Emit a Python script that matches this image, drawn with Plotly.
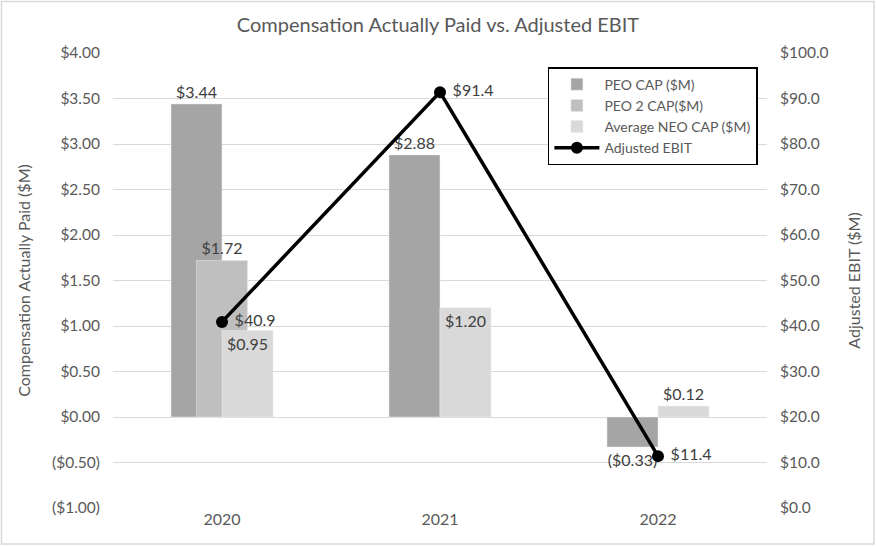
import plotly.graph_objects as go

years = ["2020", "2021", "2022"]
peo_cap = [3.44, 2.88, -0.33]
peo2_cap = [1.72, None, None]
neo_cap = [0.95, 1.20, 0.12]
ebit = [40.9, 91.4, 11.4]

left_tickvals = [-1.0, -0.5, 0.0, 0.5, 1.0, 1.5, 2.0, 2.5, 3.0, 3.5, 4.0]
left_ticktext = ["($1.00)", "($0.50)", "$0.00", "$0.50", "$1.00", "$1.50",
                 "$2.00", "$2.50", "$3.00", "$3.50", "$4.00"]

FONT = "Lato"
GREY = "#595959"
LABEL = "#404040"
LSIZE = 16


def money(v):
    if v is None:
        return ""
    return f"(${abs(v):.2f})" if v < 0 else f"${v:.2f}"


W = 0.234
fig = go.Figure()
fig.add_trace(go.Bar(
    x=years, y=peo_cap, name="PEO CAP ($M)", marker_color="#a5a5a5",
    width=W, offset=-W, text=[money(v) for v in peo_cap],
    textposition="outside", textangle=0, cliponaxis=False,
    textfont=dict(size=LSIZE, color=LABEL, family=FONT)))
fig.add_trace(go.Bar(
    x=years, y=peo2_cap, name="PEO 2 CAP($M)", marker_color="#bfbfbf",
    width=W, offset=-W / 2, text=[money(v) for v in peo2_cap],
    textposition="outside", textangle=0, cliponaxis=False,
    textfont=dict(size=LSIZE, color=LABEL, family=FONT)))
fig.add_trace(go.Bar(
    x=years, y=neo_cap, name="Average NEO CAP ($M)", marker_color="#d9d9d9",
    width=W, offset=0, text=[money(v) for v in neo_cap],
    textposition=["inside", "inside", "outside"], insidetextanchor="end",
    textangle=0, cliponaxis=False,
    insidetextfont=dict(size=LSIZE, color=LABEL, family=FONT),
    outsidetextfont=dict(size=LSIZE, color=LABEL, family=FONT)))
fig.add_trace(go.Scatter(
    x=years, y=ebit, name="Adjusted EBIT", yaxis="y2",
    mode="lines+markers+text", line=dict(color="black", width=3.5),
    marker=dict(color="black", size=12),
    text=[f" ${v:.1f}" for v in ebit], textposition="middle right",
    textfont=dict(size=LSIZE, color=LABEL, family=FONT), cliponaxis=False))

fig.update_layout(
    width=876, height=546,
    margin=dict(l=113, r=109, t=53, b=38),
    barmode="overlay",
    paper_bgcolor="white", plot_bgcolor="white",
    font=dict(family=FONT, color=GREY, size=15),
    title=dict(text="Compensation Actually Paid vs. Adjusted EBIT",
               x=0.5, xanchor="center", y=0.955, yanchor="middle",
               font=dict(size=20, color=GREY, family=FONT)),
    xaxis=dict(type="category", range=[-0.5, 2.5], showgrid=False,
               showline=False, ticks="", tickfont=dict(size=16, color=GREY)),
    yaxis=dict(range=[-1, 4], tickvals=left_tickvals, ticktext=left_ticktext,
               showgrid=True, gridcolor="#d9d9d9", gridwidth=1,
               zeroline=True, zerolinecolor="#d9d9d9", zerolinewidth=1,
               ticks="", ticklabelstandoff=12,
               title=dict(text="Compensation Actually Paid ($M)",
                          font=dict(size=16, color=GREY), standoff=17),
               tickfont=dict(size=15.5, color=GREY)),
    yaxis2=dict(range=[0, 100], dtick=10, tickprefix="$", tickformat=".1f",
                overlaying="y", side="right", showgrid=False, zeroline=False,
                ticks="", ticklabelstandoff=12,
                title=dict(text="Adjusted EBIT ($M)",
                           font=dict(size=16, color=GREY), standoff=21),
                tickfont=dict(size=15.5, color=GREY)),
    legend=dict(x=0.665, y=0.969, xanchor="left", yanchor="top",
                bgcolor="white", bordercolor="black", borderwidth=1.5,
                font=dict(size=14, color=GREY, family=FONT),
                tracegroupgap=5, itemwidth=45),
    shapes=[dict(type="rect", xref="paper", yref="paper",
                 x0=-0.1705, x1=1.1636, y0=-0.079, y1=1.113,
                 line=dict(color="#d9d9d9", width=1.5), fillcolor="rgba(0,0,0,0)",
                 layer="below")],
)

fig.write_html("out.html", config={"displayModeBar": False},
               post_script="document.body.style.margin='0';document.body.style.overflow='hidden';")
